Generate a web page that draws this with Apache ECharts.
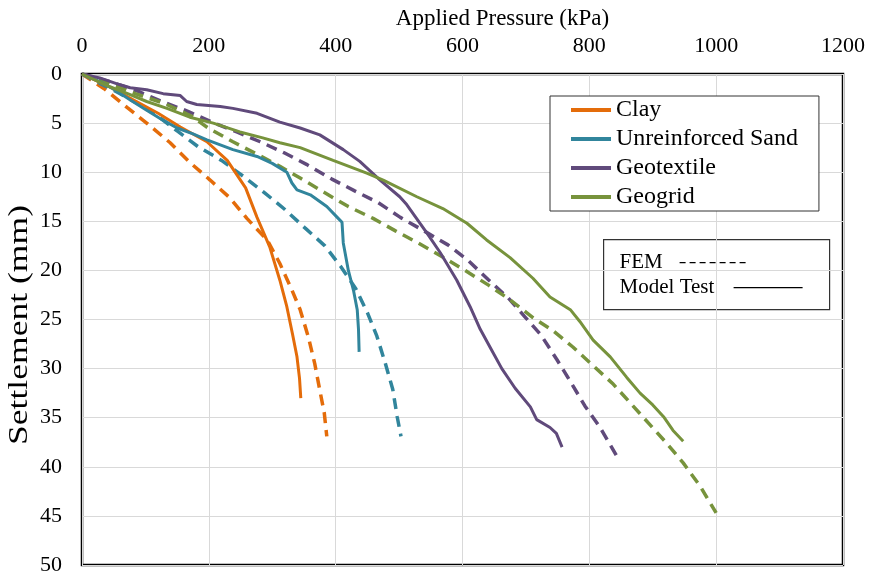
<!DOCTYPE html>
<html>
<head>
<meta charset="utf-8">
<script src="https://cdn.jsdelivr.net/npm/echarts@6/dist/echarts.min.js"></script>
<style>
html,body{margin:0;padding:0;background:#fff;}
#chart{width:873px;height:575px;}
</style>
</head>
<body>
<div id="chart"></div>
<script>
// ---- data: [applied pressure (kPa), settlement (mm)] ----
var seriesNames = ['Clay', 'Unreinforced Sand', 'Geotextile', 'Geogrid'];
var seriesColors = ['#E46C0A', '#31859C', '#604A7B', '#77933C'];
var xTicks = [0, 200, 400, 600, 800, 1000, 1200];
var yTicks = [0, 5, 10, 15, 20, 25, 30, 35, 40, 45, 50];
var xTitle = 'Applied Pressure (kPa)';
var yTitle = 'Settlement (mm)';

var clayTest = [[0,0],[40,1.2],[80,2.6],[120,4.0],[155,5.4],[197,6.9],[229,8.8],[258,11.6],[276,14.6],[296,17.6],[312,21],[323,23.7],[332,26.5],[339,28.8],[343,31],[345,33]];
var clayFEM = [[0,0],[35,1.5],[71,3.4],[102,5.0],[139,7.0],[170,9.0],[202,10.8],[233,12.6],[260,14.7],[292,16.9],[312,19.3],[331,22],[344,24],[357,26.8],[367,29.5],[375,32.2],[382,34.5],[386,36.9]];

var sandTest = [[0,0],[25,0.7],[49,1.5],[75,2.6],[102,3.7],[125,4.6],[150,5.5],[175,6.1],[197,6.7],[238,7.7],[276,8.4],[300,9.1],[323,10.0],[331,11.1],[339,11.8],[360,12.3],[386,13.5],[404,14.7],[410,15.1],[412,17.2],[420,20],[428,22],[434,24],[436,26],[437,28.3]];
var sandFEM = [[0,0],[30,1.0],[60,2.0],[90,3.1],[120,4.3],[150,5.8],[183,7.4],[220,8.8],[254,10.4],[288,12.1],[320,13.8],[352,15.7],[383,17.5],[408,19.6],[432,21.9],[450,24.3],[465,26.7],[478,29.4],[490,32.1],[497,34.9],[503,36.9]];

var geotextileTest = [[0,0],[28,0.4],[60,1.1],[76,1.4],[102,1.6],[128,2.0],[155,2.2],[165,2.8],[181,3.1],[218,3.3],[238,3.5],[276,4.0],[312,4.9],[344,5.5],[375,6.2],[412,7.7],[438,8.9],[470,10.8],[501,12.5],[512,13.3],[544,16.2],[565,18.2],[591,21],[612,23.7],[628,26],[645,28],[662,30],[683,32],[707,33.9],[717,35.2],[738,36],[748,36.6],[757,38]];
var geotextileFEM = [[0,0],[45,0.8],[90,1.8],[126,2.8],[167,3.8],[205,4.9],[244,5.9],[281,6.9],[318,8.0],[354,9.2],[394,10.7],[430,11.9],[467,13.1],[502,14.6],[540,16.0],[577,17.4],[609,19.0],[640,20.9],[672,22.8],[698,24.7],[724,26.6],[749,29.1],[771,31.4],[793,33.8],[817,36],[844,39]];

var geogridTest = [[0,0],[44,1.3],[76,2.1],[102,2.8],[134,3.5],[170,4.4],[207,5.0],[249,5.9],[285,6.5],[312,7.0],[344,7.5],[396,8.8],[449,10.1],[475,10.8],[528,12.5],[569,13.7],[607,15.2],[638,16.9],[675,18.7],[711,20.8],[738,22.7],[770,24.0],[785,25.2],[806,27.1],[833,28.8],[859,30.9],[880,32.5],[900,33.7],[917,34.9],[932,36.3],[948,37.4]];
var geogridFEM = [[0,0],[40,0.9],[84,2.0],[130,3.0],[173,4.3],[199,5.5],[238,6.9],[277,8.2],[312,9.4],[344,10.6],[383,12.1],[420,13.5],[459,14.7],[495,16.0],[530,17.2],[568,18.6],[604,20.0],[641,21.5],[675,23.0],[711,24.8],[742,26.1],[774,27.8],[806,29.7],[838,31.6],[866,33.6],[894,35.6],[922,37.6],[948,39.6],[975,42],[1000,44.7]];

var testData = [clayTest, sandTest, geotextileTest, geogridTest];
var femData = [clayFEM, sandFEM, geotextileFEM, geogridFEM];

var FONT = "'Liberation Serif', 'Times New Roman', serif";

var series = [];
for (var i = 0; i < seriesNames.length; i++) {
  series.push({
    name: seriesNames[i] + ' FEM', type: 'line', data: femData[i], symbol: 'none',
    showSymbol: false, silent: true, z: 2,
    lineStyle: { color: seriesColors[i], width: 3.5, type: [11, 7], cap: 'butt' },
    itemStyle: { color: seriesColors[i] }
  });
}
for (var j = 0; j < seriesNames.length; j++) {
  series.push({
    name: seriesNames[j], type: 'line', data: testData[j], symbol: 'none',
    showSymbol: false, silent: true, z: 3,
    lineStyle: { color: seriesColors[j], width: 3 },
    itemStyle: { color: seriesColors[j] }
  });
}

var chart = echarts.init(document.getElementById('chart'), null, { renderer: 'canvas' });
chart.setOption({
  animation: false,
  backgroundColor: '#fff',
  textStyle: { fontFamily: FONT },
  grid: { left: 82, top: 74, right: 30, bottom: 10, containLabel: false, outerBoundsMode: 'none',
          show: true, borderColor: '#000', borderWidth: 2.5, backgroundColor: 'transparent' },
  xAxis: {
    type: 'value', position: 'top', min: xTicks[0], max: xTicks[xTicks.length - 1], interval: 200,
    name: xTitle, nameLocation: 'middle', nameGap: 44,
    nameTextStyle: { fontFamily: FONT, fontSize: 23, color: '#000', padding: [0, 0, 0, 80] },
    axisLine: { show: false }, axisTick: { show: false },
    axisLabel: { fontFamily: FONT, fontSize: 22, color: '#000', margin: 17, formatter: function (v) { return String(v); } },
    splitLine: { show: true, lineStyle: { color: '#d9d9d9', width: 1 } }
  },
  yAxis: {
    type: 'value', inverse: true, min: yTicks[0], max: yTicks[yTicks.length - 1], interval: 5,
    axisLine: { show: false }, axisTick: { show: false },
    axisLabel: { fontFamily: FONT, fontSize: 22, color: '#000', margin: 20, formatter: function (v) { return String(v); } },
    splitLine: { show: true, lineStyle: { color: '#d9d9d9', width: 1 } }
  },
  legend: {
    data: seriesNames, orient: 'vertical', left: 550, top: 96,
    icon: 'rect', itemWidth: 40, itemHeight: 4, itemGap: 5,
    padding: [2, 21, 2, 21],
    borderColor: '#333', borderWidth: 1, backgroundColor: '#fff',
    textStyle: { fontFamily: FONT, fontSize: 24, color: '#000', lineHeight: 24 },
    selectedMode: false
  },
  graphic: [
    { type: 'text', x: 20, y: 325, rotation: Math.PI / 2, scaleX: 1.27, z: 100,
      style: { text: yTitle, font: '28px ' + FONT, fill: '#000', align: 'center', verticalAlign: 'middle' } },
    {
    type: 'group', left: 603, top: 239, z: 100,
    children: [
      { type: 'rect', shape: { x: 0, y: 0, width: 226, height: 70 }, style: { fill: '#fff', stroke: '#333', lineWidth: 1.2 } },
      { type: 'text', x: 16, y: 23, style: { text: 'FEM', font: '21px ' + FONT, fill: '#000', verticalAlign: 'middle' } },
      { type: 'line', shape: { x1: 76, y1: 23, x2: 145, y2: 23 }, style: { stroke: '#000', lineWidth: 1.3, lineDash: [6, 4] } },
      { type: 'text', x: 16, y: 48, style: { text: 'Model Test', font: '21px ' + FONT, fill: '#000', verticalAlign: 'middle' } },
      { type: 'line', shape: { x1: 130, y1: 48, x2: 199, y2: 48 }, style: { stroke: '#000', lineWidth: 1.3 } }
    ]
  }],
  series: series
});
</script>
</body>
</html>
